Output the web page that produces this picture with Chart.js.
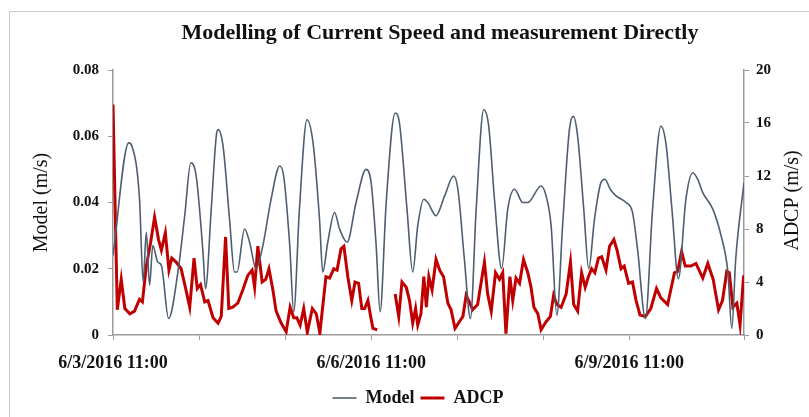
<!DOCTYPE html>
<html>
<head>
<meta charset="utf-8">
<script src="https://cdn.jsdelivr.net/npm/chart.js@4"></script>
<style>
  body { margin: 0; background: #fff; overflow: hidden; }
  #wrap { position: relative; width: 809px; height: 417px; }
  #frame { position: absolute; left: 9px; top: 11px; width: 900px; height: 500px; border: 1px solid #c8c8c8; pointer-events: none; }
  #title { position: absolute; left: 0; width: 880px; top: 19px; text-align: center; font: bold 22px "Liberation Serif", serif; color: #111; }
</style>
</head>
<body>
<div id="wrap">
  <canvas id="chart" width="809" height="417"></canvas>
  <div id="frame"></div>
  <div id="title">Modelling of Current Speed and measurement Directly</div>
</div>
<script>
const labelHours = [0, 72, 144];
const labelText = ['6/3/2016 11:00', '6/6/2016 11:00', '6/9/2016 11:00'];

// hours since 6/3/2016 11:00
const modelHours = [0, 4.4, 5.3, 7.4, 8.4, 9.3, 10.2, 11.1, 12.5, 13.5, 15.5, 18.1, 20.0, 21.7, 23.2, 25.1, 25.8, 27.4, 28.8, 29.3,
    30.7, 32.5, 33.9, 34.6, 36.7, 38.1, 39.9, 41.8, 44.1, 46.5, 47.6, 49.3, 50.4, 52.0, 54.1, 55.8, 57.6, 58.5, 59.9, 61.8,
    63.2, 65.3, 67.8, 70.6, 72.0, 73.4, 74.5, 76.2, 78.7, 79.9, 82.0, 83.6, 85.0, 86.7, 87.8, 90.1, 92.5, 95.0, 96.2, 98.0,
    99.7, 101.3, 103.4, 104.8, 106.4, 108.4, 110.1, 112.0, 114.3, 115.7, 119.4, 120.8, 122.2, 123.8, 125.4, 127.3, 128.4, 129.6, 131.3, 132.7,
    134.3, 136.1, 137.2, 138.7, 140.3, 143.1, 144.9, 146.3, 148.5, 150.5, 152.8, 154.2, 155.9, 157.7, 159.8, 161.7, 163.1, 164.5, 167.3, 169.6,
    171.5, 172.6, 173.7, 176];
const modelSpeed = [0.024, 0.058, 0.057, 0.041, 0.016, 0.031, 0.015, 0.027, 0.022, 0.021, 0.005, 0.019, 0.036, 0.052, 0.048, 0.025, 0.014, 0.038, 0.060, 0.062,
    0.057, 0.035, 0.019, 0.019, 0.032, 0.028, 0.020, 0.027, 0.041, 0.051, 0.048, 0.027, 0.007, 0.038, 0.065, 0.058, 0.035, 0.019, 0.028, 0.037,
    0.032, 0.028, 0.040, 0.050, 0.046, 0.027, 0.007, 0.040, 0.067, 0.064, 0.038, 0.019, 0.033, 0.041, 0.040, 0.036, 0.042, 0.048, 0.044, 0.023,
    0.005, 0.038, 0.068, 0.063, 0.041, 0.020, 0.038, 0.044, 0.040, 0.040, 0.045, 0.042, 0.033, 0.006, 0.033, 0.062, 0.066, 0.060, 0.038, 0.020,
    0.035, 0.046, 0.047, 0.044, 0.042, 0.040, 0.037, 0.026, 0.005, 0.038, 0.063, 0.058, 0.038, 0.017, 0.041, 0.049, 0.047, 0.043, 0.038, 0.030,
    0.019, 0.002, 0.023, 0.046];

const adcpHours = [0, 1.2, 2.3, 3.3, 4.7, 6.0, 7.4, 8.2, 9.3, 10.5, 11.6, 12.7, 13.5, 14.6, 15.6, 16.4, 17.6, 19.0, 20.2, 21.4,
    22.6, 23.5, 24.4, 25.6, 26.5, 27.9, 29.3, 30.2, 31.4, 32.3, 33.4, 34.8, 36.2, 37.6, 38.8, 39.5, 40.4, 41.6, 42.6, 43.5,
    44.6, 45.5, 46.9, 48.3, 49.4, 50.4, 51.3, 52.2, 53.2, 54.2, 55.6, 56.7, 57.7, 59.4, 60.4, 61.6, 62.5, 63.6, 64.4, 65.5,
    66.6, 67.5, 68.5, 69.4, 70.2, 71.1, 71.8, 72.5, 73.7, 76, 78.7, 79.7, 80.6, 81.8, 82.7, 83.6, 84.4, 85.0, 85.9, 86.7,
    87.4, 88.1, 89.0, 90.1, 91.1, 92.2, 93.4, 94.3, 95.4, 96.6, 97.6, 98.5, 99.4, 100.3, 101.7, 103.6, 104.5, 105.5, 106.7, 107.8,
    108.7, 109.6, 110.7, 111.5, 112.4, 113.4, 114.5, 115.7, 116.6, 117.4, 118.5, 119.4, 120.8, 122.0, 122.9, 123.8, 125.0, 126.4, 127.6, 128.5,
    129.6, 130.7, 131.7, 132.6, 133.5, 134.4, 135.4, 136.3, 137.5, 138.5, 139.7, 140.6, 141.7, 142.6, 143.8, 144.9, 145.9, 147.0, 148.5, 150.0,
    151.6, 152.8, 154.7, 156.6, 157.5, 158.6, 159.6, 161.2, 162.6, 164.5, 165.9, 167.4, 168.9, 170.0, 171.2, 171.9, 172.9, 174.0, 174.9, 175.9];
const adcpSpeed = [17.4, 1.9, 4.2, 2.0, 1.6, 1.8, 2.7, 2.5, 5.2, 7.0, 8.9, 7.2, 6.4, 7.7, 4.9, 5.8, 5.5, 5.0, 3.6, 2.1,
    5.8, 3.5, 3.8, 2.5, 2.6, 1.3, 0.9, 1.4, 7.4, 2.0, 2.1, 2.4, 3.4, 4.5, 4.9, 3.6, 6.7, 4.0, 4.2, 5.0,
    3.4, 1.8, 0.9, 0.25, 2.1, 1.3, 1.3, 0.75, 2.0, 0.2, 2.0, 1.6, 0.15, 4.4, 4.3, 5.0, 4.9, 6.5, 6.7, 4.4,
    2.6, 4.0, 3.9, 2.0, 2.0, 2.6, 1.5, 0.5, 0.4, null, 3.1, 1.4, 4.0, 3.6, 2.6, 0.9, 2.0, 0.75, 1.6, 4.4,
    2.1, 4.4, 3.4, 5.7, 4.9, 4.4, 2.4, 1.9, 0.5, 1.0, 1.4, 3.0, 2.5, 1.9, 2.3, 5.5, 3.1, 1.8, 4.7, 4.2,
    4.7, 0.1, 4.4, 2.6, 4.3, 3.9, 5.7, 4.7, 3.6, 2.1, 1.6, 0.4, 1.0, 1.4, 3.0, 2.3, 2.1, 3.1, 5.5, 2.3,
    1.8, 4.7, 3.6, 4.4, 5.0, 4.7, 5.8, 5.9, 4.9, 6.7, 7.2, 6.4, 5.0, 5.2, 3.9, 4.0, 2.6, 1.5, 1.4, 2.0,
    3.5, 2.8, 2.3, 4.7, 4.8, 6.3, 5.2, 5.2, 5.4, 4.3, 5.4, 4.2, 1.9, 2.6, 4.8, 4.7, 2.1, 2.4, 0.75, 4.5];

const axisGray = '#9a9a9a';
const serif = '"Liberation Serif", "Times New Roman", serif';

const rightTitle = {
    id: 'rightTitle',
    afterDraw(chart) {
        const s = chart.scales.y1;
        const ctx = chart.ctx;
        ctx.save();
        ctx.translate(s.right - 16, (s.top + s.bottom) / 2 - 2);
        ctx.rotate(-Math.PI / 2);
        ctx.font = '20px ' + serif;
        ctx.fillStyle = '#111';
        ctx.textAlign = 'center';
        ctx.textBaseline = 'middle';
        ctx.fillText('ADCP (m/s)', 0, 0);
        ctx.restore();
    }
};

const ctx = document.querySelector('#chart').getContext('2d');
new Chart(ctx, {
    type: 'line',
    data: {
        datasets: [{
            label: 'Model',
            data: modelHours.map((h, i) => ({x: h, y: modelSpeed[i]})),
            borderColor: '#4f5d70',
            borderWidth: 1.6,
            pointRadius: 0,
            cubicInterpolationMode: 'monotone',
            yAxisID: 'y'
        }, {
            label: 'ADCP',
            data: adcpHours.map((h, i) => ({x: h, y: adcpSpeed[i]})),
            borderColor: '#c00000',
            borderWidth: 3,
            pointRadius: 0,
            tension: 0,
            spanGaps: false,
            yAxisID: 'y1'
        }]
    },
    options: {
        responsive: false,
        animation: false,
        layout: {padding: {left: 27, right: 0, top: 70, bottom: 0}},
        plugins: {
            title: {display: false},
            tooltip: {enabled: false},
            legend: {
                position: 'bottom',
                labels: {
                    usePointStyle: true,
                    pointStyle: 'line',
                    pointStyleWidth: 24,
                    boxHeight: 10,
                    padding: 6,
                    color: '#111',
                    font: {family: serif, size: 18, weight: 'bold'}
                }
            }
        },
        scales: {
            x: {
                type: 'linear',
                min: 0,
                max: 176,
                afterFit: s => { s.height = 48; },
                ticks: {
                    stepSize: 24,
                    autoSkip: false,
                    maxRotation: 0,
                    padding: 13,
                    color: '#111',
                    font: {family: serif, size: 18, weight: 'bold'},
                    callback: v => {
                        const i = labelHours.indexOf(v);
                        return i >= 0 ? labelText[i] : '';
                    }
                },
                grid: {drawOnChartArea: false, drawTicks: true, tickLength: 5, color: axisGray},
                border: {color: axisGray, width: 1.5}
            },
            y: {
                position: 'left',
                min: 0,
                max: 0.08,
                afterFit: s => { s.width = 86; },
                ticks: {
                    stepSize: 0.02,
                    padding: 9,
                    color: '#111',
                    font: {family: serif, size: 15, weight: 'bold'},
                    callback: v => v === 0 ? '0' : v.toFixed(2)
                },
                title: {
                    display: true,
                    text: 'Model (m/s)',
                    color: '#111',
                    font: {family: serif, size: 20},
                    padding: {top: 3, bottom: 0}
                },
                grid: {drawOnChartArea: false, drawTicks: true, tickLength: 5, color: axisGray},
                border: {color: axisGray, width: 1.5}
            },
            y1: {
                position: 'right',
                min: 0,
                max: 20,
                afterFit: s => { s.width = 65; },
                ticks: {
                    stepSize: 4,
                    padding: 7,
                    color: '#111',
                    font: {family: serif, size: 15, weight: 'bold'}
                },
                grid: {drawOnChartArea: false, drawTicks: true, tickLength: 5, color: axisGray},
                border: {color: axisGray, width: 1.5}
            }
        }
    },
    plugins: [rightTitle]
});
</script>
</body>
</html>
